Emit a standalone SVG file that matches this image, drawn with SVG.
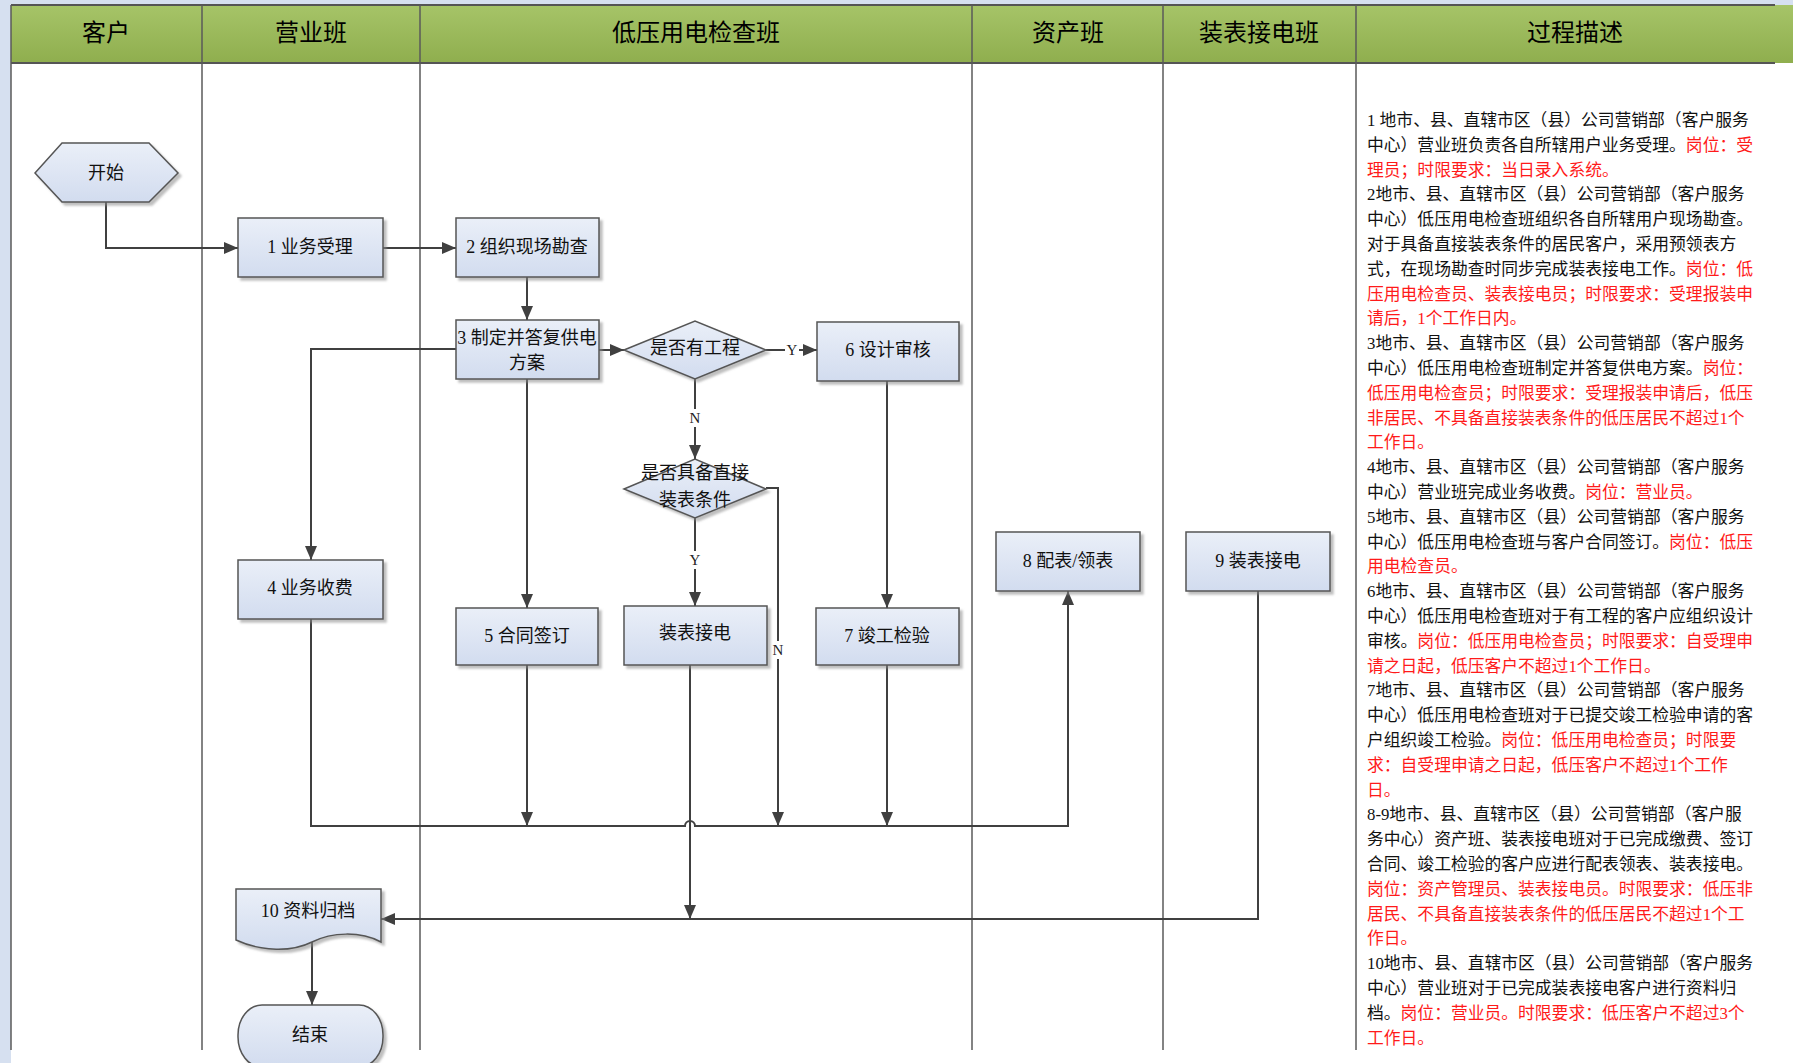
<svg xmlns="http://www.w3.org/2000/svg" width="1793" height="1063" viewBox="0 0 1793 1063">
<defs>
<linearGradient id="hdr" x1="0" y1="0" x2="0" y2="1"><stop offset="0" stop-color="#a6c468"/><stop offset="1" stop-color="#8fae4e"/></linearGradient>
<linearGradient id="bx" x1="0" y1="0" x2="0" y2="1"><stop offset="0" stop-color="#eaeff8"/><stop offset="1" stop-color="#d2dcef"/></linearGradient>
<filter id="sh" x="-10%" y="-10%" width="130%" height="130%"><feDropShadow dx="3" dy="3" stdDeviation="1" flood-color="#8a8a8a" flood-opacity="0.55"/></filter>
<marker id="arr" viewBox="0 0 14 12" refX="14" refY="6" markerWidth="14" markerHeight="12" markerUnits="userSpaceOnUse" orient="auto"><path d="M0,0 L14,6 L0,12 Z" fill="#404040"/></marker>
</defs>
<style>
.lane{stroke:#5a5a5a;stroke-width:1.5;fill:none}
.hd{font-family:"Liberation Serif","Noto Sans CJK SC",serif;font-size:24px;fill:#000;text-anchor:middle;dominant-baseline:central}
.node{fill:url(#bx);stroke:#555;stroke-width:1.5;filter:url(#sh)}
.nt{font-family:"Liberation Serif","Noto Sans CJK SC",serif;font-size:18px;fill:#111;text-anchor:middle;dominant-baseline:central}
.cn{stroke:#404040;stroke-width:2;fill:none}
.ca{stroke:#404040;stroke-width:2;fill:none;marker-end:url(#arr)}
.lb{font-family:"Liberation Serif",serif;font-size:15px;fill:#222;text-anchor:middle;dominant-baseline:central}
.ds{font-family:"Liberation Serif","Noto Sans CJK SC",serif;font-size:16.8px;fill:#111}
.r{fill:#ff1a1a}
</style>
<rect x="0" y="0" width="1793" height="1063" fill="#ffffff"/>
<rect x="0" y="0" width="11" height="1063" fill="#d6e0f0"/>
<rect x="0" y="0" width="1793" height="5" fill="#d6e0f0"/>
<g id="header">
<rect x="11" y="5" width="1782" height="58" fill="url(#hdr)"/>
<line x1="11" y1="5" x2="1775" y2="5" stroke="#555" stroke-width="2"/>
<line x1="11" y1="63" x2="1775" y2="63" stroke="#555" stroke-width="2"/>
<text class="hd" x="106" y="33">客户</text>
<text class="hd" x="311" y="33">营业班</text>
<text class="hd" x="696" y="33">低压用电检查班</text>
<text class="hd" x="1068" y="33">资产班</text>
<text class="hd" x="1259" y="33">装表接电班</text>
<text class="hd" x="1575" y="33">过程描述</text>
</g>
<g id="lanes">
<line class="lane" x1="11" y1="5" x2="11" y2="1050"/>
<line class="lane" x1="202" y1="5" x2="202" y2="1050"/>
<line class="lane" x1="420" y1="5" x2="420" y2="1050"/>
<line class="lane" x1="972" y1="5" x2="972" y2="1050"/>
<line class="lane" x1="1163" y1="5" x2="1163" y2="1050"/>
<line class="lane" x1="1356" y1="5" x2="1356" y2="1050"/>
</g>
<g id="connectors">
<path class="ca" d="M106,202 V248 H238"/>
<path class="ca" d="M383,248 H456"/>
<path class="ca" d="M527,277 V320"/>
<path class="ca" d="M598,350 H624"/>
<path class="ca" d="M766,350 H817"/>
<path class="ca" d="M695,379 V459"/>
<path class="ca" d="M456,349 H311 V560"/>
<path class="ca" d="M527,379 V608"/>
<path class="ca" d="M887,381 V608"/>
<path class="ca" d="M695,518 V606"/>
<path class="ca" d="M766,488 H778 V826"/>
<path class="ca" d="M311,619 V826 H685 A5,5 0 0 1 695,826 H1068 V591"/>
<path class="ca" d="M527,665 V826"/>
<path class="ca" d="M887,665 V826"/>
<path class="ca" d="M690,665 V919"/>
<path class="ca" d="M1258,591 V919 H381"/>
<path class="ca" d="M312,942 V1005"/>
<rect x="785" y="341" width="14" height="18" fill="#fff"/>
<text class="lb" x="792" y="350">Y</text>
<rect x="688" y="409" width="14" height="18" fill="#fff"/>
<text class="lb" x="695" y="418">N</text>
<rect x="688" y="551" width="14" height="18" fill="#fff"/>
<text class="lb" x="695" y="560">Y</text>
<rect x="771" y="641" width="14" height="18" fill="#fff"/>
<text class="lb" x="778" y="650">N</text>
</g>
<g id="start"><polygon class="node" points="35,173 62,143 149,143 178,173 149,202 62,202"/><text class="nt" x="106" y="173">开始</text></g>
<g id="n1"><rect class="node" x="238" y="218" width="145" height="59"/><text class="nt" x="310" y="247">1 业务受理</text></g>
<g id="n2"><rect class="node" x="456" y="218" width="143" height="59"/><text class="nt" x="527" y="247">2 组织现场勘查</text></g>
<g id="n3"><rect class="node" x="456" y="320" width="143" height="59"/><text class="nt" x="527" y="338">3 制定并答复供电</text><text class="nt" x="527" y="363">方案</text></g>
<g id="d1"><polygon class="node" points="624,350 695,321 766,350 695,379"/><text class="nt" x="695" y="348">是否有工程</text></g>
<g id="n6"><rect class="node" x="817" y="322" width="142" height="59"/><text class="nt" x="888" y="350">6 设计审核</text></g>
<g id="d2"><polygon class="node" points="624,489 695,459 766,489 695,518"/><text class="nt" x="695" y="473">是否具备直接</text><text class="nt" x="695" y="500">装表条件</text></g>
<g id="n4"><rect class="node" x="238" y="560" width="145" height="59"/><text class="nt" x="310" y="588">4 业务收费</text></g>
<g id="n5"><rect class="node" x="456" y="608" width="142" height="57"/><text class="nt" x="527" y="636">5 合同签订</text></g>
<g id="nz"><rect class="node" x="624" y="606" width="143" height="59"/><text class="nt" x="695" y="633">装表接电</text></g>
<g id="n7"><rect class="node" x="816" y="608" width="143" height="57"/><text class="nt" x="887" y="636">7 竣工检验</text></g>
<g id="n8"><rect class="node" x="996" y="532" width="144" height="59"/><text class="nt" x="1068" y="561">8 配表/领表</text></g>
<g id="n9"><rect class="node" x="1186" y="532" width="144" height="59"/><text class="nt" x="1258" y="561">9 装表接电</text></g>
<g id="n10"><path class="node" d="M236,889 H381 V942 C360,931 332,932 312,942 C292,952 262,952 236,940 Z"/><text class="nt" x="308" y="911">10 资料归档</text></g>
<g id="end"><rect class="node" x="238" y="1005" width="145" height="62" rx="24" ry="30"/><text class="nt" x="310" y="1035">结束</text></g>
<g id="desc">
<text class="ds" x="1367" y="126">1 地市、县、直辖市区（县）公司营销部（客户服务</text>
<text class="ds" x="1367" y="150.8">中心）营业班负责各自所辖用户业务受理。<tspan class="r">岗位：受</tspan></text>
<text class="ds r" x="1367" y="175.6">理员；时限要求：当日录入系统。</text>
<text class="ds" x="1367" y="200.4">2地市、县、直辖市区（县）公司营销部（客户服务</text>
<text class="ds" x="1367" y="225.2">中心）低压用电检查班组织各自所辖用户现场勘查。</text>
<text class="ds" x="1367" y="250">对于具备直接装表条件的居民客户，采用预领表方</text>
<text class="ds" x="1367" y="274.8">式，在现场勘查时同步完成装表接电工作。<tspan class="r">岗位：低</tspan></text>
<text class="ds r" x="1367" y="299.6">压用电检查员、装表接电员；时限要求：受理报装申</text>
<text class="ds r" x="1367" y="324.4">请后，1个工作日内。</text>
<text class="ds" x="1367" y="349.2">3地市、县、直辖市区（县）公司营销部（客户服务</text>
<text class="ds" x="1367" y="374">中心）低压用电检查班制定并答复供电方案。<tspan class="r">岗位：</tspan></text>
<text class="ds r" x="1367" y="398.8">低压用电检查员；时限要求：受理报装申请后，低压</text>
<text class="ds r" x="1367" y="423.6">非居民、不具备直接装表条件的低压居民不超过1个</text>
<text class="ds r" x="1367" y="448.4">工作日。</text>
<text class="ds" x="1367" y="473.2">4地市、县、直辖市区（县）公司营销部（客户服务</text>
<text class="ds" x="1367" y="498">中心）营业班完成业务收费。<tspan class="r">岗位：营业员。</tspan></text>
<text class="ds" x="1367" y="522.8">5地市、县、直辖市区（县）公司营销部（客户服务</text>
<text class="ds" x="1367" y="547.6">中心）低压用电检查班与客户合同签订。<tspan class="r">岗位：低压</tspan></text>
<text class="ds r" x="1367" y="572.4">用电检查员。</text>
<text class="ds" x="1367" y="597.2">6地市、县、直辖市区（县）公司营销部（客户服务</text>
<text class="ds" x="1367" y="622">中心）低压用电检查班对于有工程的客户应组织设计</text>
<text class="ds" x="1367" y="646.8">审核。<tspan class="r">岗位：低压用电检查员；时限要求：自受理申</tspan></text>
<text class="ds r" x="1367" y="671.6">请之日起，低压客户不超过1个工作日。</text>
<text class="ds" x="1367" y="696.4">7地市、县、直辖市区（县）公司营销部（客户服务</text>
<text class="ds" x="1367" y="721.2">中心）低压用电检查班对于已提交竣工检验申请的客</text>
<text class="ds" x="1367" y="746">户组织竣工检验。<tspan class="r">岗位：低压用电检查员；时限要</tspan></text>
<text class="ds r" x="1367" y="770.8">求：自受理申请之日起，低压客户不超过1个工作</text>
<text class="ds r" x="1367" y="795.6">日。</text>
<text class="ds" x="1367" y="820.4">8-9地市、县、直辖市区（县）公司营销部（客户服</text>
<text class="ds" x="1367" y="845.2">务中心）资产班、装表接电班对于已完成缴费、签订</text>
<text class="ds" x="1367" y="870">合同、竣工检验的客户应进行配表领表、装表接电。</text>
<text class="ds r" x="1367" y="894.8">岗位：资产管理员、装表接电员。时限要求：低压非</text>
<text class="ds r" x="1367" y="919.6">居民、不具备直接装表条件的低压居民不超过1个工</text>
<text class="ds r" x="1367" y="944.4">作日。</text>
<text class="ds" x="1367" y="969.2">10地市、县、直辖市区（县）公司营销部（客户服务</text>
<text class="ds" x="1367" y="994">中心）营业班对于已完成装表接电客户进行资料归</text>
<text class="ds" x="1367" y="1018.8">档。<tspan class="r">岗位：营业员。时限要求：低压客户不超过3个</tspan></text>
<text class="ds r" x="1367" y="1043.6">工作日。</text>
</g>
</svg>
